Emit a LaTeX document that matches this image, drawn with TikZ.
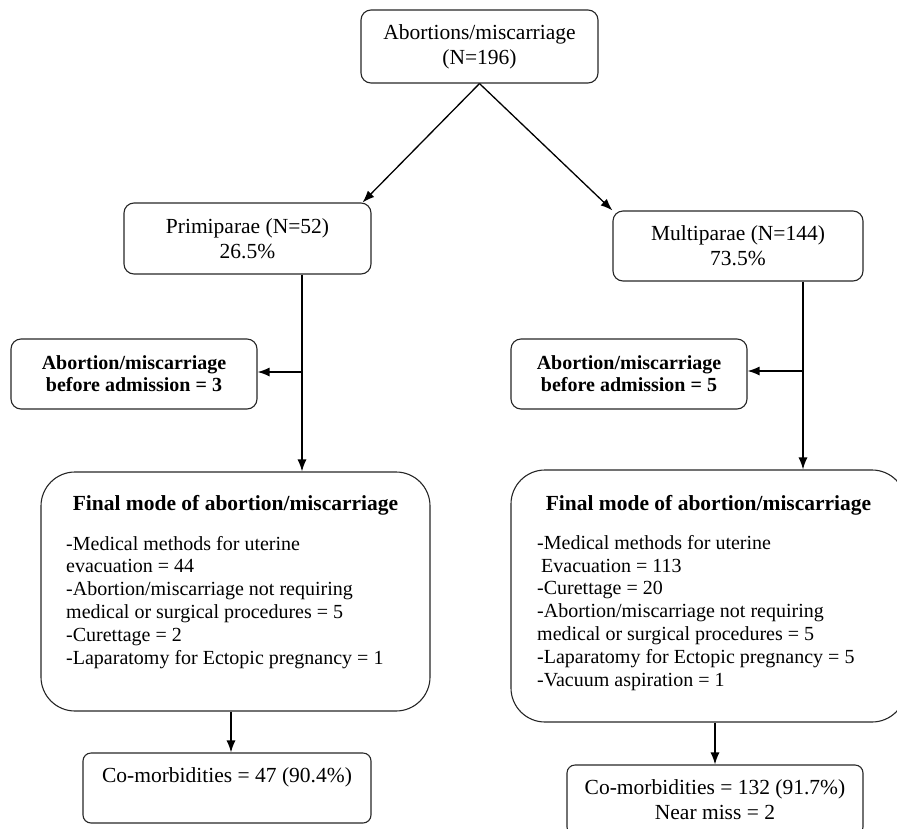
\documentclass[tikz,border=0pt]{standalone}
\usepackage{fontspec}
\setmainfont{Liberation Serif}
\usetikzlibrary{arrows.meta,calc}
\begin{document}
\begin{tikzpicture}[x=1pt,y=-1pt,
  box/.style={draw=black!85,line width=1.1pt,rounded corners=10pt,align=center,inner sep=0pt,font=\fontsize{21.5}{25}\selectfont},
  bbox/.style={box,font=\fontsize{20}{22}\selectfont\bfseries},
  bigbox/.style={draw=black!85,line width=1.1pt,rounded corners=34pt,inner sep=0pt},
  conn/.style={line width=1.3pt,-{Latex[length=12pt,width=9pt]}},
  txt/.style={inner sep=0pt,font=\fontsize{20}{22.8}\selectfont,align=left},
  ttl/.style={inner sep=0pt,font=\fontsize{21.5}{24}\selectfont\bfseries},
]
\useasboundingbox (0,0) rectangle (897,828);
\begin{scope}
\clip (0,0) rectangle (897,828);
\node[box,minimum width=237pt,minimum height=73pt] (top) at (479.5,46.5) {Abortions/miscarriage\\(N=196)};
\node[box,minimum width=247pt,minimum height=71pt] (prim) at (247.5,238.5) {Primiparae (N=52)\\26.5\%};
\node[box,minimum width=250pt,minimum height=70pt] (multi) at (738,246) {Multiparae (N=144)\\73.5\%};
\node[bbox,minimum width=246pt,minimum height=70pt] (bl) at (134,374) {Abortion/miscarriage\\before admission = 3};
\node[bbox,minimum width=236pt,minimum height=70pt] (br) at (629,374) {Abortion/miscarriage\\before admission = 5};
\node[bigbox,minimum width=389pt,minimum height=239pt] (fl) at (235.5,591.5) {};
\node[bigbox,minimum width=395pt,minimum height=252pt] (fr) at (708.5,596) {};
\node[ttl,anchor=base] (flt) at (235.5,510) {Final mode of abortion/miscarriage};
\node[ttl,anchor=base] (frt) at (708.5,510) {Final mode of abortion/miscarriage};
\node[txt,anchor=base west] (fll) at (66,664) {-Medical methods for uterine\\evacuation = 44\\-Abortion/miscarriage not requiring\\medical or surgical procedures = 5\\-Curettage = 2\\-Laparatomy for Ectopic pregnancy = 1};
\node[txt,anchor=base west] (frl) at (537,686) {-Medical methods for uterine\\\hspace*{4pt}Evacuation = 113\\-Curettage = 20\\-Abortion/miscarriage not requiring\\medical or surgical procedures = 5\\-Laparatomy for Ectopic pregnancy = 5\\-Vacuum aspiration = 1};
\node[box,rounded corners=8pt,minimum width=288pt,minimum height=70pt] (cl) at (227,788) {Co-morbidities = 47 (90.4\%)\\\mbox{}};
\node[box,rounded corners=8pt,minimum width=296pt,minimum height=70pt] (cr) at (715,800) {Co-morbidities = 132 (91.7\%)\\Near miss = 2};
\coordinate (pj) at (302,372);
\coordinate (mj) at (803,371);
\coordinate (ca) at (231,0);
\draw[conn] (top.south) -- ([xshift=-9pt]prim.north east);
\draw[conn] (top.south) -- (multi.north west);
\draw[conn] (prim.south -| pj) -- (fl.north -| pj);
\draw[conn] (pj) -- (bl.east |- pj);
\draw[conn] (multi.south -| mj) -- (fr.north -| mj);
\draw[conn] (mj) -- (br.east |- mj);
\draw[conn] (fl.south -| ca) -- (cl.north -| ca);
\draw[conn] (fr.south -| cr.north) -- (cr.north);
\end{scope}
\end{tikzpicture}
\end{document}
